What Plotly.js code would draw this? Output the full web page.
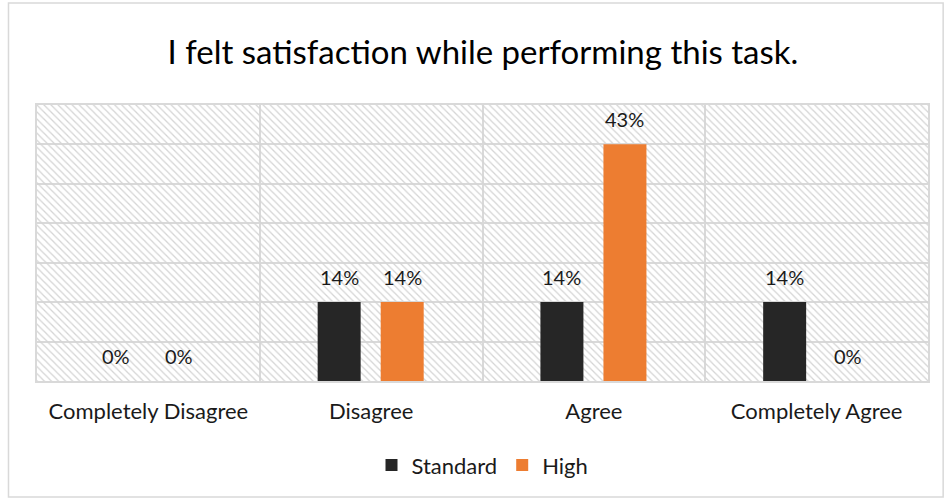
<!DOCTYPE html>
<html>
<head>
<meta charset="utf-8">
<script src="https://cdn.plot.ly/plotly-3.0.1.min.js"></script>
<style>html,body{margin:0;padding:0;background:#fff;}#chart{width:947px;height:499px;}</style>
</head>
<body>
<div id="chart"></div>
<script>
const categories = ["Completely Disagree", "Disagree", "Agree", "Completely Agree"];
const standardValues = [0, 0.143, 0.143, 0.143];
const highValues = [0, 0.143, 0.429, 0];
const standardLabels = ["0%", "14%", "14%", "14%"];
const highLabels = ["0%", "14%", "43%", "0%"];
const seriesNames = ["Standard", "High"];

const FONT = "Lato, 'Open Sans', sans-serif";
const barW = 0.193;
const offStd = -0.24;
const offHigh = 0.043;
const yMax = 0.5;

const background = {
  type: 'bar', x: categories, y: categories.map(() => yMax),
  width: 1, offset: -0.5,
  marker: {color: '#d4d4d4', line: {width: 0},
    pattern: {shape: '\\', fillmode: 'replace', size: 5, solidity: 0.25}},
  hoverinfo: 'skip', showlegend: false
};
const std = {
  type: 'bar', name: seriesNames[0], x: categories, y: standardValues,
  width: barW, offset: offStd,
  marker: {color: '#262626', line: {width: 0}}
};
const high = {
  type: 'bar', name: seriesNames[1], x: categories, y: highValues,
  width: barW, offset: offHigh,
  marker: {color: '#ED7D31', line: {width: 0}}
};

const annotations = [];
categories.forEach((c, i) => {
  annotations.push({x: i + offStd + barW / 2, y: standardValues[i], xref: 'x', yref: 'y',
    text: standardLabels[i], showarrow: false, yshift: 25,
    font: {family: FONT, size: 20, color: '#1a1a1a'}});
  annotations.push({x: i + offHigh + barW / 2, y: highValues[i], xref: 'x', yref: 'y',
    text: highLabels[i], showarrow: false, yshift: 25,
    font: {family: FONT, size: 20, color: '#1a1a1a'}});
});

const layout = {
  width: 947, height: 499,
  margin: {l: 37, r: 19, t: 105, b: 118},
  paper_bgcolor: '#fff', plot_bgcolor: '#fff',
  barmode: 'overlay',
  title: {text: 'I felt satisfaction while performing this task.', x: 0.51, xanchor: 'center',
    y: 0.895, yanchor: 'middle', font: {family: FONT, size: 33, color: '#000'}},
  xaxis: {type: 'category', range: [-0.5, 3.5], tickson: 'boundaries', showgrid: true,
    gridcolor: '#d9d9d9', gridwidth: 2, showline: true, linecolor: '#d9d9d9', linewidth: 2, mirror: true,
    ticks: '', ticklabelstandoff: 10, tickfont: {family: FONT, size: 22, color: '#1a1a1a'}, fixedrange: true},
  yaxis: {range: [0, yMax], tick0: 0, dtick: yMax / 7, showgrid: true, gridcolor: '#d9d9d9', gridwidth: 2,
    showticklabels: false, zeroline: false, showline: true, linecolor: '#d9d9d9', linewidth: 2, mirror: true,
    ticks: '', fixedrange: true},
  showlegend: true,
  legend: {orientation: 'h', x: 0.5, xanchor: 'center', y: -0.305, yanchor: 'middle',
    font: {family: FONT, size: 22, color: '#1a1a1a'}, itemwidth: 30, traceorder: 'normal'},
  annotations: annotations,
  shapes: [{type: 'rect', xref: 'paper', yref: 'paper', x0: -0.032, x1: 1.017, y0: -0.42, y1: 1.37,
    line: {color: '#d9d9d9', width: 1.5}, fillcolor: 'rgba(0,0,0,0)', layer: 'below'}]
};

Plotly.newPlot('chart', [background, std, high], layout, {displayModeBar: false, staticPlot: true});
</script>
</body>
</html>
